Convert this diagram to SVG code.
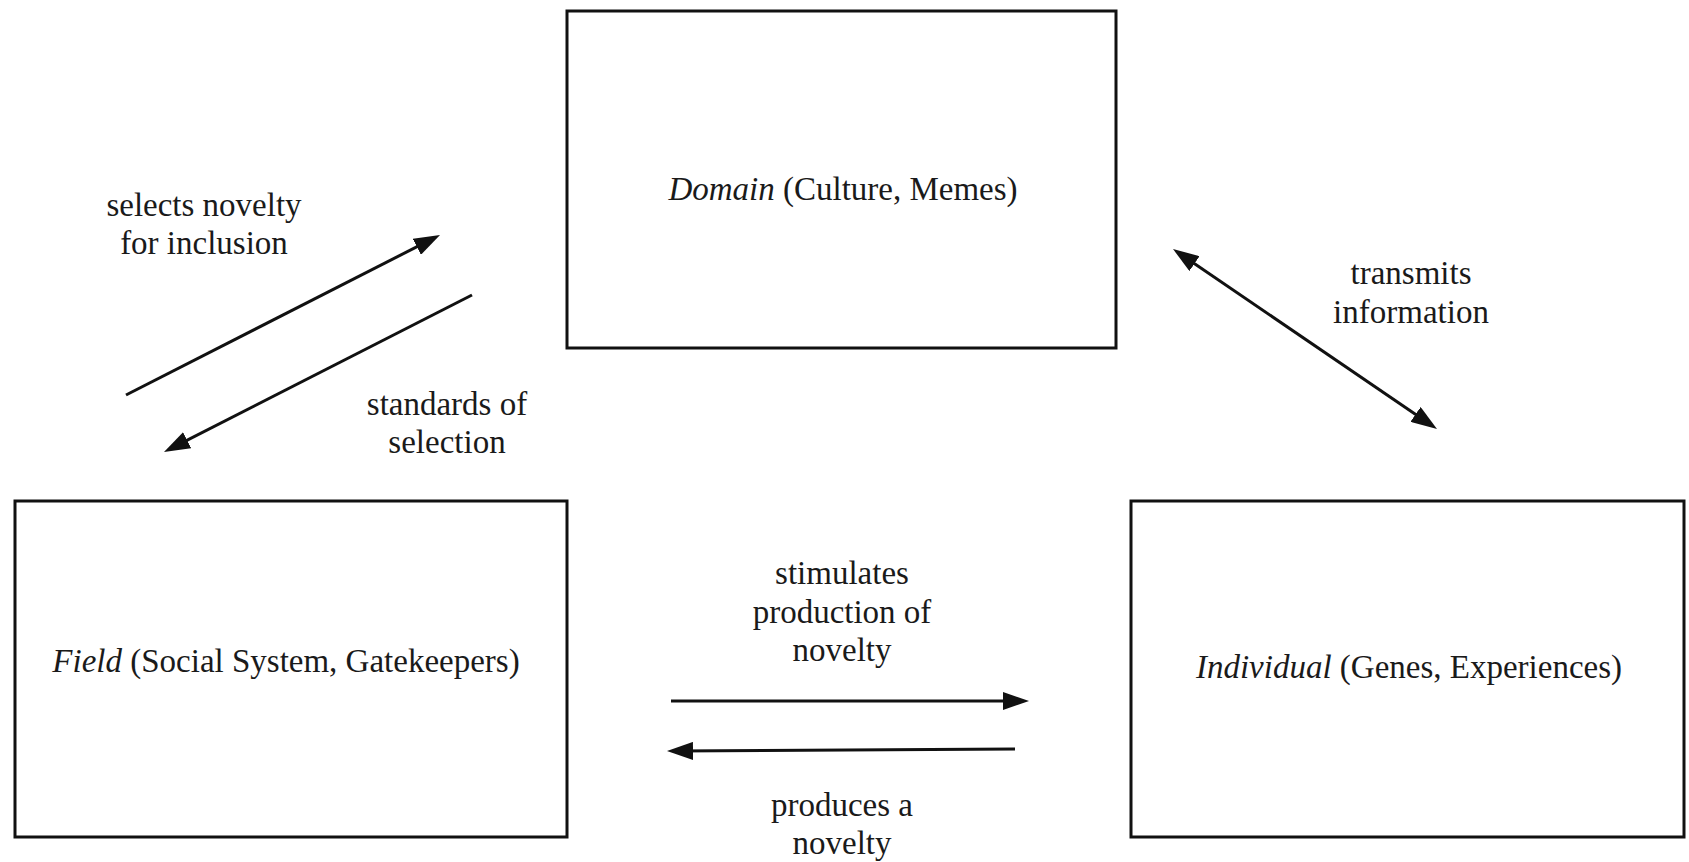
<svg xmlns="http://www.w3.org/2000/svg" width="1689" height="862" viewBox="0 0 1689 862">
<style>
.box{fill:#fff;stroke:#111;stroke-width:3}
.t{font-family:"Liberation Serif","Times New Roman",serif;font-size:33px;fill:#1a1a1a;text-anchor:middle}
.i{font-style:italic}
.c{stroke:#111;stroke-width:3;fill:none}
</style>
<defs>
<marker id="ah" viewBox="0 0 26 18" markerWidth="26" markerHeight="18" refX="18" refY="9" orient="auto-start-reverse" markerUnits="userSpaceOnUse">
<path d="M0,0 L26,9 L0,18 Z" fill="#111"/>
</marker>
</defs>
<rect width="1689" height="862" fill="#fff"/>
<g id="domain">
<rect class="box" x="567" y="11" width="549" height="337"/>
<text class="t" x="843" y="200"><tspan class="i">Domain</tspan> (Culture, Memes)</text>
</g>
<g id="field">
<rect class="box" x="15" y="501" width="552" height="336"/>
<text class="t" x="286" y="672"><tspan class="i">Field</tspan> (Social System, Gatekeepers)</text>
</g>
<g id="individual">
<rect class="box" x="1131" y="501" width="553" height="336"/>
<text class="t" x="1409" y="678"><tspan class="i">Individual</tspan> (Genes, Experiences)</text>
</g>
<g id="connectors">
<line class="c" x1="126" y1="395" x2="432.9" y2="238.6" marker-end="url(#ah)"/>
<line class="c" x1="472" y1="295" x2="171.1" y2="448.4" marker-end="url(#ah)"/>
<line class="c" x1="1179.6" y1="253.5" x2="1430.4" y2="424.5" marker-start="url(#ah)" marker-end="url(#ah)"/>
<line class="c" x1="671" y1="701" x2="1021" y2="701" marker-end="url(#ah)"/>
<line class="c" x1="1015" y1="749" x2="675" y2="751" marker-end="url(#ah)"/>
</g>
<g id="labels">
<text class="t" x="204" y="216">selects novelty</text>
<text class="t" x="204" y="254">for inclusion</text>
<text class="t" x="447" y="415">standards of</text>
<text class="t" x="447" y="453">selection</text>
<text class="t" x="1411" y="284">transmits</text>
<text class="t" x="1411" y="323">information</text>
<text class="t" x="842" y="584">stimulates</text>
<text class="t" x="842" y="623">production of</text>
<text class="t" x="842" y="661">novelty</text>
<text class="t" x="842" y="816">produces a</text>
<text class="t" x="842" y="854">novelty</text>
</g>
</svg>
